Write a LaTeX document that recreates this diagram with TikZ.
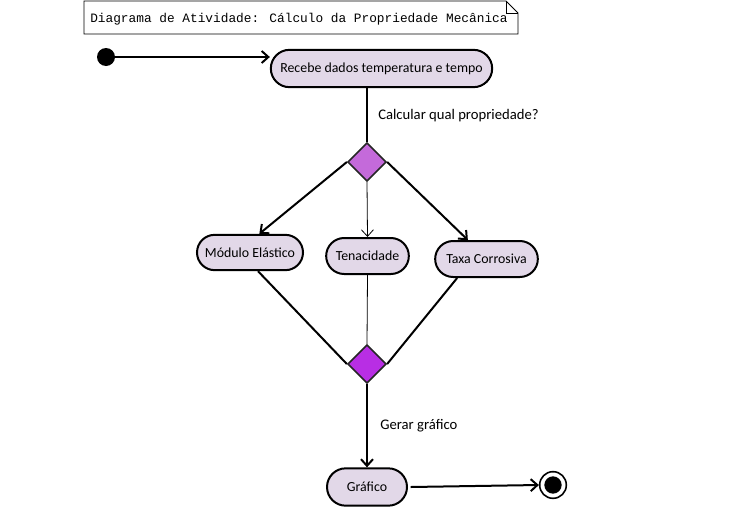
\documentclass[tikz,border=0pt]{standalone}
\usepackage{fontspec}
\setmainfont{Carlito}
\newfontfamily\notefont{Liberation Mono}
\usetikzlibrary{shapes.geometric,shapes.misc,arrows.meta}
\definecolor{actfill}{RGB}{226,216,232}
\definecolor{choicea}{RGB}{196,106,218}
\definecolor{choiceb}{RGB}{184,46,228}

\begin{document}
\begin{tikzpicture}[x=0.75pt,y=-0.75pt,
    every node/.style={font=\fontsize{11}{13}\selectfont},
    action/.style={rounded rectangle,draw,line width=1.5pt,fill=actfill,inner sep=0pt,font=\fontsize{10.4}{12}\selectfont},
    choice/.style={diamond,draw=black!85,line width=1.2pt,inner sep=0pt,minimum width=29pt,minimum height=29pt},
    flow/.style={line width=1.5pt,-{Straight Barb[length=5pt,width=9pt]}},
    thinflow/.style={line width=0.6pt,-{Straight Barb[length=5pt,width=9pt]}}]
  \useasboundingbox (0,0) rectangle (738,507);

  % Note
  \draw[line width=0.6pt,fill=white] (84,1) -- (506,1) -- (518,13) -- (518,34) -- (84,34) -- cycle;
  \draw[line width=0.6pt] (506,1) -- (506,13) -- (518,13);
  \node[anchor=west,inner sep=0pt,font=\notefont\fontsize{9.6}{11}\selectfont] (title) at (90,19)
    {Diagrama de Atividade: Cálculo da Propriedade Mecânica};

  % Start and first action
  \node[circle,fill=black,inner sep=0pt,minimum size=13.5pt] (start) at (106,57) {};
  \node[action,minimum width=166pt,minimum height=28pt] (recebe) at (381.5,68.5) {Recebe dados temperatura e tempo};
  \draw[flow] (start) -- (start -| recebe.west);

  % First decision
  \node[choice,fill=choicea] (escolha) at (367,162) {};
  \draw[line width=1.5pt] (recebe.south -| escolha) -- (escolha.north);
  \node[anchor=west,inner sep=0pt] (pergunta) at (378,116) {Calcular qual propriedade?};

  % Properties
  \node[action,minimum width=79.5pt,minimum height=26.5pt] (modulo) at (250,252.5) {Módulo Elástico};
  \node[action,minimum width=62pt,minimum height=27pt] (tenac) at (367.5,256) {Tenacidade};
  \node[action,minimum width=77pt,minimum height=27pt] (taxa) at (486.5,259) {Taxa Corrosiva};
  \draw[flow] (escolha.west) -- ([xshift=7pt]modulo.north);
  \draw[thinflow] (escolha.south) -- (tenac.north);
  \draw[flow] (escolha.east) -- ([xshift=-14pt]taxa.north);

  % Merge
  \node[choice,fill=choiceb] (junta) at (367,364) {};
  \draw[line width=1.5pt] ([xshift=6pt]modulo.south) -- (junta.west);
  \draw[line width=0.6pt] (tenac.south) -- (junta.north);
  \draw[line width=1.5pt] ([xshift=-22pt]taxa.south) -- (junta.east);

  % Graph and end
  \node[action,minimum width=60pt,minimum height=28pt] (grafico) at (367,487) {Gráfico};
  \node[anchor=west,inner sep=0pt] (gerar) at (380,426) {Gerar gráfico};
  \draw[flow] (junta.south) -- (grafico.north);
  \node[circle,draw,line width=1.2pt,fill=white,inner sep=0pt,minimum size=20pt] (fim) at (553,485) {};
  \node[circle,fill=black,inner sep=0pt,minimum size=13pt] (fimdot) at (fim) {};
  \draw[flow] ([xshift=2pt]grafico.east) -- (fim.west);
\end{tikzpicture}
\end{document}
